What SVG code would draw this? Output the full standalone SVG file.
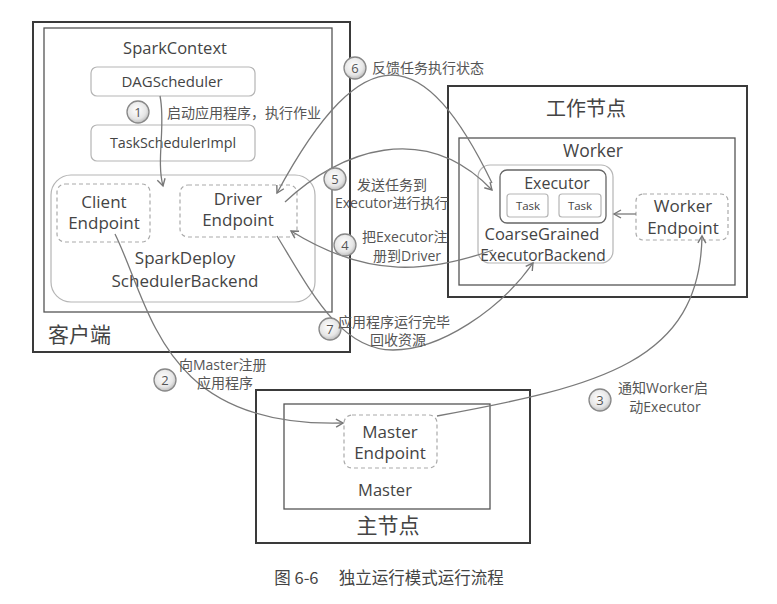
<svg xmlns="http://www.w3.org/2000/svg" width="777" height="604" viewBox="0 0 777 604">
<defs>
<radialGradient id="cg" cx="45%" cy="40%" r="60%">
<stop offset="0" stop-color="#ffffff"/>
<stop offset="0.7" stop-color="#e6e6e6"/>
<stop offset="1" stop-color="#bdbdbd"/>
</radialGradient>
<marker id="ah" markerWidth="10" markerHeight="10" refX="8" refY="5" orient="auto" markerUnits="userSpaceOnUse">
<path d="M1,1 L8,5 L1,9" fill="none" stroke="#777" stroke-width="1.4"/>
</marker>
<style>
.outer{fill:none;stroke:#3a3a3a;stroke-width:2}
.inner{fill:none;stroke:#555;stroke-width:1.3}
.rbox{fill:#fff;stroke:#b5b5b5;stroke-width:1.2}
.dbox{fill:#fff;stroke:#aaa;stroke-width:1.2;stroke-dasharray:4 3}
.t{font-family:"Open Sans","Noto Sans","Noto Sans CJK SC",sans-serif;fill:#444;text-anchor:middle}
.cn{font-family:"Noto Sans CJK SC","Open Sans",sans-serif;fill:#444}
.lab{font-family:"Open Sans","Noto Sans CJK SC",sans-serif;font-size:14px;fill:#555}
.num circle{fill:url(#cg);stroke:#888;stroke-width:1.3}
.num text{font-family:"Open Sans","Noto Sans",sans-serif;font-size:13px;fill:#555;text-anchor:middle}
.con path{fill:none;stroke:#7a7a7a;stroke-width:1.3}
</style>
</defs>
<rect width="777" height="604" fill="#fff"/>

<g id="client">
<rect class="outer" x="33" y="22" width="317" height="330"/>
<rect class="inner" x="44" y="28" width="288" height="284"/>
<text class="t" x="175" y="54" font-size="16.5">SparkContext</text>
<text class="cn" x="48" y="342" font-size="21">客户端</text>
</g>
<g id="dagscheduler">
<rect class="rbox" x="91" y="67" width="164" height="29" rx="6"/>
<text class="t" x="172" y="87" font-size="15">DAGScheduler</text>
</g>
<g id="taskschedulerimpl">
<rect class="rbox" x="91" y="125" width="164" height="36" rx="6"/>
<text class="t" x="173" y="148" font-size="14.3">TaskSchedulerImpl</text>
</g>
<g id="sparkdeploybackend">
<rect class="rbox" x="51" y="175" width="264" height="127" rx="20"/>
<text class="t" x="185" y="264" font-size="17">SparkDeploy</text>
<text class="t" x="185" y="287" font-size="17">SchedulerBackend</text>
</g>
<g id="clientendpoint">
<rect class="dbox" x="57" y="184" width="93" height="58" rx="8"/>
<text class="t" x="104" y="208" font-size="17">Client</text>
<text class="t" x="104" y="229" font-size="17">Endpoint</text>
</g>
<g id="driverendpoint">
<rect class="dbox" x="180" y="185" width="117" height="52" rx="8"/>
<text class="t" x="238" y="205" font-size="17">Driver</text>
<text class="t" x="238" y="226" font-size="17">Endpoint</text>
</g>

<g id="workernode">
<rect class="outer" x="448" y="86" width="299" height="211"/>
<rect class="inner" x="459" y="138" width="276" height="147"/>
<text class="cn" x="586" y="116" font-size="20" text-anchor="middle">工作节点</text>
<text class="t" x="593" y="157" font-size="17.5">Worker</text>
</g>
<g id="coarsegrainedexecutorbackend">
<rect class="rbox" x="478" y="165" width="135" height="98" rx="12"/>
<text class="t" x="542" y="240" font-size="16.5">CoarseGrained</text>
<text class="t" x="543" y="261" font-size="15.5">ExecutorBackend</text>
</g>
<g id="executor">
<rect fill="#fff" stroke="#666" stroke-width="1.3" x="500" y="170" width="106" height="53" rx="7"/>
<text class="t" x="557" y="189" font-size="16">Executor</text>
<rect class="rbox" x="507" y="194" width="41" height="23" rx="3"/>
<text class="t" x="528" y="210" font-size="11.5">Task</text>
<rect class="rbox" x="559" y="194" width="42" height="23" rx="3"/>
<text class="t" x="580" y="210" font-size="11.5">Task</text>
</g>
<g id="workerendpoint">
<rect class="dbox" x="636" y="194" width="92" height="46" rx="7"/>
<text class="t" x="683" y="212" font-size="17">Worker</text>
<text class="t" x="683" y="234" font-size="17">Endpoint</text>
</g>

<g id="masternode">
<rect class="outer" x="256" y="390" width="274" height="153"/>
<rect class="inner" x="284" y="404" width="206" height="105"/>
<text class="t" x="385" y="496" font-size="16.5">Master</text>
<text class="cn" x="388" y="533" font-size="21" text-anchor="middle">主节点</text>
</g>
<g id="masterendpoint">
<rect class="dbox" x="344" y="415" width="93" height="53" rx="8"/>
<text class="t" x="390" y="438" font-size="17">Master</text>
<text class="t" x="390" y="459" font-size="17">Endpoint</text>
</g>

<g id="connectors" class="con">
<path d="M160,96 C166,125 156,160 163,186" marker-end="url(#ah)"/>
<path d="M115,234 C152,310 162,428 343,423" marker-end="url(#ah)"/>
<path d="M437,416 C600,386 700,362 702,236" marker-end="url(#ah)"/>
<path d="M636,214 L614,214" marker-end="url(#ah)"/>
<path d="M493,250 C430,272 370,280 291,231" marker-end="url(#ah)"/>
<path d="M285,202 C340,150 425,120 492,190" marker-end="url(#ah)"/>
<path d="M492,183 C425,45 365,30 277,193" marker-end="url(#ah)"/>
<path d="M277,236 C310,290 340,350 393,350 C440,350 500,310 533,263" marker-end="url(#ah)"/>
</g>

<g id="labels">
<g class="num"><circle cx="138" cy="112" r="11"/><text x="138" y="117">1</text></g>
<text class="lab" x="167" y="118" font-size="14.7">启动应用程序，执行作业</text>
<g class="num"><circle cx="165" cy="380" r="11"/><text x="165" y="385">2</text></g>
<text class="lab" x="179" y="370">向Master注册</text>
<text class="lab" x="225" y="388" text-anchor="middle">应用程序</text>
<g class="num"><circle cx="600" cy="400" r="11"/><text x="600" y="405">3</text></g>
<text class="lab" x="618" y="393">通知Worker启</text>
<text class="lab" x="665" y="412" text-anchor="middle">动Executor</text>
<g class="num"><circle cx="345" cy="245" r="11"/><text x="345" y="250">4</text></g>
<text class="lab" x="362" y="242">把Executor注</text>
<text class="lab" x="407" y="261" text-anchor="middle">册到Driver</text>
<g class="num"><circle cx="335" cy="179" r="11"/><text x="335" y="184">5</text></g>
<text class="lab" x="357" y="190">发送任务到</text>
<text class="lab" x="335" y="208">Executor进行执行</text>
<g class="num"><circle cx="355" cy="68" r="11"/><text x="355" y="73">6</text></g>
<text class="lab" x="372" y="73">反馈任务执行状态</text>
<g class="num"><circle cx="330" cy="329" r="11"/><text x="330" y="334">7</text></g>
<text class="lab" x="338" y="327">应用程序运行完毕</text>
<text class="lab" x="398" y="345" text-anchor="middle">回收资源</text>
</g>

<text class="cn" x="389" y="584" font-size="16.5" text-anchor="middle" fill="#555">图 6-6　 独立运行模式运行流程</text>
</svg>
